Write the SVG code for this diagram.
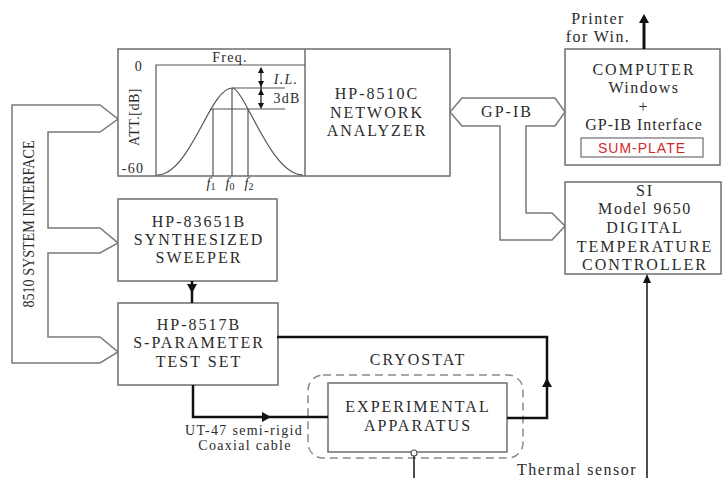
<svg xmlns="http://www.w3.org/2000/svg" width="723" height="478" viewBox="0 0 723 478">
<style>
.box{fill:#fff;stroke:#6e6e6e;stroke-width:1.5}
.t{font-family:"Liberation Serif","Times New Roman",serif;font-size:16px;fill:#2b2b2b;text-anchor:middle;letter-spacing:2px}
.s{font-family:"Liberation Serif","Times New Roman",serif;font-size:14px;fill:#2b2b2b;text-anchor:middle;letter-spacing:1.3px}
.g{fill:none;stroke:#555;stroke-width:1.2}
.bus{fill:#fff;stroke:#7a7a7a;stroke-width:1.5}
.w{fill:none;stroke:#111;stroke-width:2.5}
.ah{fill:#111}
</style>
<rect width="723" height="478" fill="#fff"/>

<g id="system-interface">
<path class="bus" d="M100,105 L12,105 L12,363 L100,363 L118,352 L100,337 L48,337 L48,253 L100,253 L118,243 L100,228 L48,228 L48,132 L100,132 L118,119 Z"/>
<text class="t" style="letter-spacing:0" transform="translate(34,224) rotate(-90)" textLength="167" lengthAdjust="spacingAndGlyphs">8510 SYSTEM INTERFACE</text>
</g>

<g id="gpib">
<path class="bus" d="M462,126 L450,112 L462,98 L555,98 L565,112 L555,126 L526,126 L526,213 L552,213 L565,226 L552,240 L500,240 L500,126 Z"/>
<text class="t" x="507" y="117">GP-IB</text>
</g>

<g id="network-analyzer">
<rect class="box" x="118" y="49" width="332" height="127"/>
<line class="g" x1="305" y1="49" x2="305" y2="176" style="stroke:#6e6e6e;stroke-width:1.5"/>
<text class="t" x="377" y="99">HP-8510C</text>
<text class="t" x="377" y="118">NETWORK</text>
<text class="t" x="377" y="136">ANALYZER</text>
<!-- graph -->
<polyline class="g" points="305,65 156,65 156,176"/>
<path class="g" d="M157,175 C190,175 210,88 232,88 C245,88 270,175 303,175"/>
<line class="g" x1="232" y1="88" x2="285" y2="88"/>
<line class="g" x1="210" y1="109" x2="285" y2="109"/>
<line class="g" x1="213" y1="109" x2="213" y2="176"/>
<line class="g" x1="232" y1="88" x2="232" y2="176"/>
<line class="g" x1="248" y1="109" x2="248" y2="176"/>
<line class="g" x1="261" y1="68" x2="261" y2="107" style="stroke:#111"/>
<polygon class="ah" points="261,67 258,73 264,73"/>
<polygon class="ah" points="261,87 258,81 264,81"/>
<polygon class="ah" points="261,89 258,95 264,95"/>
<polygon class="ah" points="261,109 258,103 264,103"/>
<text class="s" x="230" y="62">Freq.</text>
<text class="s" x="139" y="71">0</text>
<text class="s" x="133" y="173">-60</text>
<text class="s" transform="translate(139,117) rotate(-90)" style="letter-spacing:0.5px">ATT.[dB]</text>
<text class="s" x="286" y="84" font-style="italic">I.L.</text>
<text class="s" x="287" y="103">3dB</text>
<text class="s" x="211" y="188" font-style="italic" style="letter-spacing:0">f<tspan font-size="10" font-style="normal" dy="2">1</tspan></text>
<text class="s" x="230" y="188" font-style="italic" style="letter-spacing:0">f<tspan font-size="10" font-style="normal" dy="2">0</tspan></text>
<text class="s" x="249" y="188" font-style="italic" style="letter-spacing:0">f<tspan font-size="10" font-style="normal" dy="2">2</tspan></text>
</g>

<g id="sweeper">
<rect class="box" x="118" y="199" width="159" height="82"/>
<text class="t" x="199" y="227">HP-83651B</text>
<text class="t" x="199" y="245">SYNTHESIZED</text>
<text class="t" x="199" y="263">SWEEPER</text>
</g>

<g id="test-set">
<rect class="box" x="118" y="303" width="160" height="82"/>
<text class="t" x="199" y="330">HP-8517B</text>
<text class="t" x="199" y="348">S-PARAMETER</text>
<text class="t" x="199" y="367">TEST SET</text>
</g>

<g id="computer">
<rect class="box" x="565" y="49" width="155" height="116"/>
<text class="t" x="644" y="75">COMPUTER</text>
<text class="t" x="644" y="93" style="letter-spacing:1.5px">Windows</text>
<text class="t" x="644" y="112">+</text>
<text class="t" x="644" y="130" style="letter-spacing:1px">GP-IB Interface</text>
<rect x="581" y="138" width="122" height="19" fill="#fff" stroke="#6e6e6e" stroke-width="1.2"/>
<text x="642" y="153" font-family="Liberation Sans, Arial, sans-serif" font-size="14" fill="#d42a2a" text-anchor="middle" letter-spacing="1">SUM-PLATE</text>
</g>

<g id="printer">
<text class="t" x="598" y="24" style="letter-spacing:1.4px">Printer</text>
<text class="t" x="598" y="42" style="letter-spacing:1.4px">for Win.</text>
</g>

<g id="controller">
<rect class="box" x="565" y="182" width="156" height="92"/>
<text class="t" x="645" y="196">SI</text>
<text class="t" x="645" y="214" style="letter-spacing:1.6px">Model 9650</text>
<text class="t" x="645" y="233">DIGITAL</text>
<text class="t" x="645" y="252">TEMPERATURE</text>
<text class="t" x="645" y="270">CONTROLLER</text>
</g>

<g id="cryostat">
<rect x="308" y="375" width="215" height="83" rx="15" fill="none" stroke="#8a8a8a" stroke-width="1.5" stroke-dasharray="8,5"/>
<text class="t" x="418" y="365">CRYOSTAT</text>
</g>

<g id="apparatus">
<rect class="box" x="328" y="383" width="179" height="69"/>
<text class="t" x="418" y="412">EXPERIMENTAL</text>
<text class="t" x="418" y="431">APPARATUS</text>
</g>

<g id="connectors">
<line class="w" x1="644" y1="49" x2="644" y2="22" style="stroke-width:3"/>
<polygon class="ah" points="644,14 639,23 649,23"/>
<line class="w" x1="192" y1="281" x2="192" y2="303"/>
<polygon class="ah" points="192,293 187,284 197,284"/>
<polyline class="w" points="277,337 547,337 547,418 507,418"/>
<polygon class="ah" points="547,378 542,387 552,387"/>
<polyline class="w" points="193,385 193,417 328,417"/>
<polygon class="ah" points="271,417 262,412 262,422"/>
<line x1="647" y1="478" x2="647" y2="280" stroke="#222" stroke-width="1.6"/>
<polygon class="ah" points="647,274 643,283 651,283"/>
<line x1="414" y1="456" x2="414" y2="478" stroke="#222" stroke-width="1.6"/>
<circle cx="414" cy="453" r="3" fill="#fff" stroke="#555" stroke-width="1.2"/>
</g>

<g id="labels">
<text class="s" x="244" y="435">UT-47 semi-rigid</text>
<text class="s" x="245" y="450">Coaxial cable</text>
<text class="t" x="577" y="475" style="letter-spacing:1.5px">Thermal sensor</text>
</g>
</svg>
